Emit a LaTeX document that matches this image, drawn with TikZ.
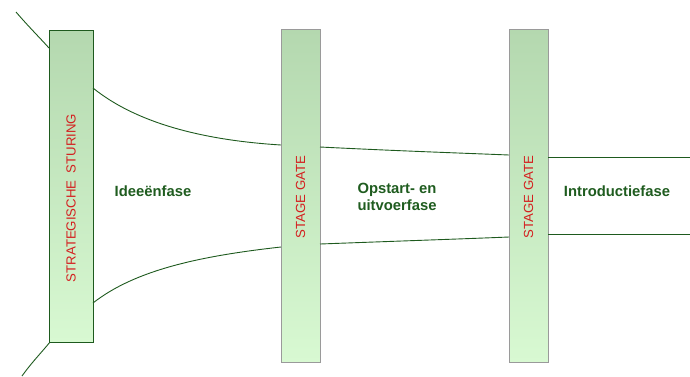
\documentclass[tikz,border=0pt]{standalone}
\usepackage{fontspec}
\setmainfont{Liberation Sans}
\usetikzlibrary{calc}
\definecolor{linegreen}{HTML}{1E5A1E}
\definecolor{labelgreen}{HTML}{1F5C1F}
\definecolor{gatered}{HTML}{D42020}
\definecolor{filltop}{HTML}{B4D8AF}
\definecolor{fillbot}{HTML}{D8F9D2}
\definecolor{gateborder}{HTML}{9A9A9A}
\tikzset{
  bar/.style={inner sep=0pt, minimum width=#1pt, top color=filltop, bottom color=fillbot},
  pillar/.style={bar=44, draw=linegreen, line width=1pt, minimum height=312pt},
  gatebar/.style={bar=39, draw=gateborder, line width=1pt, minimum height=333pt},
  vlabel/.style={rotate=90, text=gatered, font=\fontsize{13.2}{15}\selectfont},
  phase/.style={text=labelgreen, font=\bfseries\fontsize{14.8}{17.5}\selectfont, align=center},
  funnel/.style={draw=linegreen, line width=0.9pt}
}
\begin{document}
\begin{tikzpicture}[x=1pt, y=-1pt]
\useasboundingbox (0,0) rectangle (690,376);

% strategic steering pillar and the two stage gates
\node[pillar] (ss) at (71,186) {};
\node[gatebar] (g1) at (300.5,195.5) {};
\node[gatebar] (g2) at (528.5,195.5) {};
\node[vlabel] at (71,198) {STRATEGISCHE\ \ STURING};
\node[vlabel] at (300.5,197) {STAGE GATE};
\node[vlabel] at (528.5,197) {STAGE GATE};

% funnel end points
\coordinate (inTop) at (16,12);
\coordinate (inBot) at (22,376);
\coordinate (ssTopIn) at (49,48);
\coordinate (ssBotIn) at (50,342);
\coordinate (ssTop) at (93,88);
\coordinate (ssBot) at (93,303);
\coordinate (g1TopL) at (281,145);
\coordinate (g1BotL) at (281,247);
\coordinate (g1TopR) at (320,147);
\coordinate (g1BotR) at (320,244);
\coordinate (g2TopL) at (509,155);
\coordinate (g2BotL) at (509,237);
\coordinate (g2TopR) at (548,157);
\coordinate (g2BotR) at (548,234);
\coordinate (outTop) at (690,157);
\coordinate (outBot) at (690,234);

% funnel lines
\draw[funnel] (inTop) .. controls (28,26) and (40,38) .. (ssTopIn);
\draw[funnel] (inBot) .. controls (32,362) and (42,352) .. (ssBotIn);
\draw[funnel] (ssTop) .. controls (135,122) and (200,140) .. (g1TopL);
\draw[funnel] (ssBot) .. controls (135,270) and (200,256) .. (g1BotL);
\draw[funnel] (g1TopR) .. controls (400,151) and (460,153) .. (g2TopL);
\draw[funnel] (g1BotR) .. controls (400,241) and (460,239) .. (g2BotL);
\draw[funnel] (g2TopR) -- (outTop);
\draw[funnel] (g2BotR) -- (outBot);

% phase labels
\node[phase] (p1) at (153,191) {Ideeënfase};
\node[phase] (p2) at (397,197) {Opstart- en\\uitvoerfase};
\node[phase] (p3) at (617,191) {Introductiefase};
\end{tikzpicture}
\end{document}
